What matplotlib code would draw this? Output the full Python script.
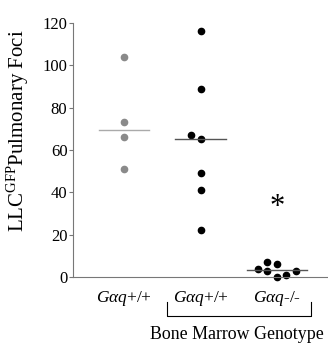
import matplotlib
matplotlib.use("Agg")
import matplotlib.pyplot as plt
import numpy as np

plt.rcParams['font.family'] = ['Liberation Serif', 'DejaVu Serif']
plt.rcParams['mathtext.fontset'] = 'custom'
plt.rcParams['mathtext.rm'] = 'Liberation Serif'
plt.rcParams['mathtext.it'] = 'Liberation Serif:italic'

categories = ["$G\\alpha q$+/+", "$G\\alpha q$+/+", "$G\\alpha q$-/-"]
g1_x = [1, 1, 1, 1]
g1_y = [104, 73, 66, 51]
g2_x = [2, 2, 1.87, 2, 2, 2, 2]
g2_y = [116, 89, 67, 65, 49, 41, 22]
g3_x = [2.75, 2.87, 3.0, 2.87, 3.0, 3.12, 3.24]
g3_y = [4, 7, 6, 3, 0, 1, 3]
means = [69.5, 65, 3.3]
mean_half = [0.33, 0.33, 0.39]
yticks = [0, 20, 40, 60, 80, 100, 120]

fig = plt.figure(figsize=(3.28, 3.46), dpi=100)
ax = fig.add_axes([73/328, 1-277/346, (327-73)/328, (277-23)/346])
ax.set_xlim(0.333, 3.65)
ax.set_ylim(0, 120)

gray = '#8a8a8a'
ax.plot(g1_x, g1_y, 'o', color=gray, ms=4.5, clip_on=False)
ax.plot(g2_x, g2_y, 'o', color='black', ms=4.5, clip_on=False)
ax.plot(g3_x, g3_y, 'o', color='black', ms=4.5, clip_on=False)
cols = ['#aaaaaa', '#555555', '#555555']
for i, (m, h) in enumerate(zip(means, mean_half)):
    ax.plot([i + 1 - h, i + 1 + h], [m, m], color=cols[i], lw=1)

ax.text(3.0, 33, '*', ha='center', va='center', fontsize=22)

for s in ['top', 'right']:
    ax.spines[s].set_visible(False)
for s in ['left', 'bottom']:
    ax.spines[s].set_color('#777777')
ax.set_yticks(yticks)
ax.tick_params(axis='y', length=3, color='#777777', labelsize=12, pad=1)
ax.set_xticks([1, 2, 3])
ax.set_xticklabels(categories, fontsize=12.5)
ax.tick_params(axis='x', length=0, pad=9)
ax.set_ylabel('LLC$^{\\mathrm{GFP}}$Pulmonary Foci', fontsize=15)
ax.yaxis.set_label_coords(-0.165, 0.575)

# bracket
bx0, bx1 = 1.56, 3.44
ax.plot([bx0, bx0, bx1, bx1], [-12, -18.5, -18.5, -12], color='black', lw=0.8, clip_on=False)
ax.text(2.47, -27.4, 'Bone Marrow Genotype', ha='center', va='center', fontsize=12.9)

fig.savefig('out.png', dpi=100)
